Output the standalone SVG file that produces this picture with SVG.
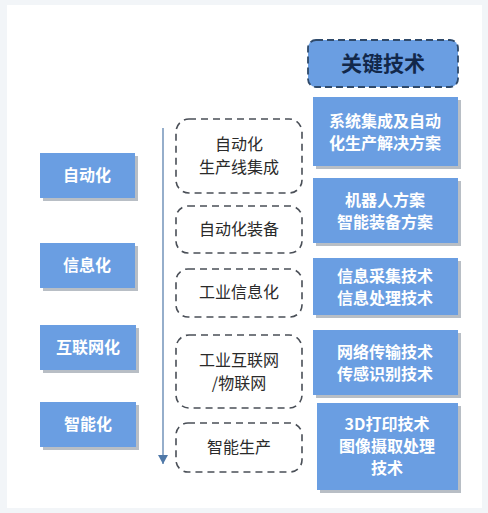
<svg xmlns="http://www.w3.org/2000/svg" width="488" height="513" viewBox="0 0 488 513">
<style>
.blue{fill:#6a9ee2;}
.shadow{fill:#9aa3ad;opacity:0.7;}
.dash{fill:#ffffff;stroke:#4a4f57;stroke-width:1.6;stroke-dasharray:7 5;}
.wt{fill:#ffffff;font-family:"Noto Sans CJK SC","Noto Sans",sans-serif;font-size:16px;font-weight:bold;text-anchor:middle;}
.dt{fill:#2a2a2a;font-family:"Noto Sans CJK SC","Noto Sans",sans-serif;font-size:16px;text-anchor:middle;}
.ht{fill:#12284a;font-family:"Noto Sans CJK SC","Noto Sans",sans-serif;font-size:21px;font-weight:bold;text-anchor:middle;}
</style>
<defs>
<marker id="arr" markerWidth="10" markerHeight="10" refX="9" refY="5" orient="auto" markerUnits="userSpaceOnUse">
<path d="M0,0 L9,5 L0,10 Z" fill="#4f78a8"/>
</marker>
</defs>
<rect x="0" y="0" width="488" height="513" fill="#f2f5f8"/>
<rect x="7" y="5" width="475" height="503" fill="#ffffff"/>

<g id="connectors">
<line x1="163" y1="128" x2="163" y2="464" stroke="#4f78a8" stroke-width="1.2" marker-end="url(#arr)"/>
</g>

<g id="header">
<rect x="308" y="40" width="150" height="47" rx="8" fill="#6a9ee2" stroke="#2f4a6b" stroke-width="1.8" stroke-dasharray="7 4"/>
<text class="ht" x="383" y="71">关键技术</text>
</g>

<g id="left-1"><rect class="shadow" x="43" y="156" width="95" height="45"/><rect class="blue" x="40" y="153" width="95" height="45"/><text class="wt" x="87" y="181">自动化</text></g>
<g id="left-2"><rect class="shadow" x="43" y="246" width="95" height="45"/><rect class="blue" x="40" y="243" width="95" height="45"/><text class="wt" x="87" y="271">信息化</text></g>
<g id="left-3"><rect class="shadow" x="43" y="328" width="96" height="45"/><rect class="blue" x="40" y="325" width="96" height="45"/><text class="wt" x="88" y="353">互联网化</text></g>
<g id="left-4"><rect class="shadow" x="43" y="405" width="96" height="45"/><rect class="blue" x="40" y="402" width="96" height="45"/><text class="wt" x="88" y="430">智能化</text></g>

<g id="mid-1"><rect class="dash" x="176" y="119" width="126" height="74" rx="13"/><text class="dt" x="239" y="150">自动化</text><text class="dt" x="239" y="173">生产线集成</text></g>
<g id="mid-2"><rect class="dash" x="176" y="206" width="126" height="47" rx="12"/><text class="dt" x="239" y="235">自动化装备</text></g>
<g id="mid-3"><rect class="dash" x="176" y="269" width="126" height="48" rx="12"/><text class="dt" x="239" y="298">工业信息化</text></g>
<g id="mid-4"><rect class="dash" x="176" y="335" width="126" height="73" rx="13"/><text class="dt" x="239" y="366">工业互联网</text><text class="dt" x="239" y="389">/物联网</text></g>
<g id="mid-5"><rect class="dash" x="176" y="423" width="126" height="49" rx="12"/><text class="dt" x="239" y="453">智能生产</text></g>

<g id="right-1"><rect class="shadow" x="316" y="100" width="145" height="69"/><rect class="blue" x="313" y="97" width="145" height="69"/><text class="wt" x="385" y="127">系统集成及自动</text><text class="wt" x="385" y="149">化生产解决方案</text></g>
<g id="right-2"><rect class="shadow" x="316" y="181" width="145" height="65"/><rect class="blue" x="313" y="178" width="145" height="65"/><text class="wt" x="385" y="206">机器人方案</text><text class="wt" x="385" y="228">智能装备方案</text></g>
<g id="right-3"><rect class="shadow" x="316" y="261" width="145" height="57"/><rect class="blue" x="313" y="258" width="145" height="57"/><text class="wt" x="385" y="282">信息采集技术</text><text class="wt" x="385" y="304">信息处理技术</text></g>
<g id="right-4"><rect class="shadow" x="316" y="333" width="145" height="65"/><rect class="blue" x="313" y="330" width="145" height="65"/><text class="wt" x="385" y="358">网络传输技术</text><text class="wt" x="385" y="380">传感识别技术</text></g>
<g id="right-5"><rect class="shadow" x="320" y="406" width="141" height="87"/><rect class="blue" x="317" y="403" width="141" height="87"/><text class="wt" x="387" y="430">3D打印技术</text><text class="wt" x="387" y="452">图像摄取处理</text><text class="wt" x="387" y="474">技术</text></g>
</svg>
